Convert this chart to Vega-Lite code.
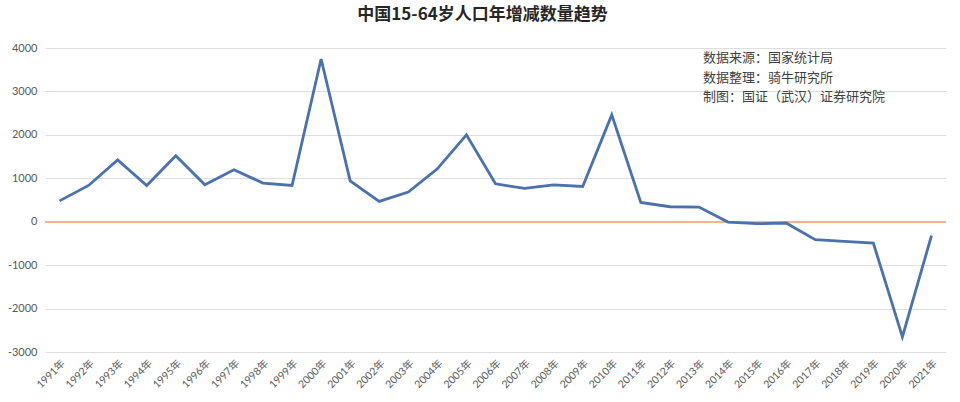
{
  "$schema": "https://vega.github.io/schema/vega-lite/v6.json",
  "width": 901,
  "height": 304,
  "autosize": {"type": "none"},
  "padding": {"left": 45, "top": 48, "right": 14, "bottom": 50},
  "background": "white",
  "config": {
    "view": {"stroke": null},
    "font": "Lato, Noto Sans CJK SC",
    "axis": {"labelFont": "Lato, Noto Sans CJK SC", "labelColor": "#595959"}
  },
  "title": {
    "text": "中国15-64岁人口年增减数量趋势",
    "font": "Noto Sans CJK SC",
    "fontSize": 17,
    "fontWeight": "bold",
    "color": "#262626",
    "anchor": "middle",
    "dx": -13,
    "offset": 18
  },
  "datasets": {
    "series": [
      {"year": "1991年", "value": 480},
      {"year": "1992年", "value": 835},
      {"year": "1993年", "value": 1425},
      {"year": "1994年", "value": 835},
      {"year": "1995年", "value": 1517},
      {"year": "1996年", "value": 850},
      {"year": "1997年", "value": 1195},
      {"year": "1998年", "value": 890},
      {"year": "1999年", "value": 835},
      {"year": "2000年", "value": 3747},
      {"year": "2001年", "value": 942},
      {"year": "2002年", "value": 467},
      {"year": "2003年", "value": 683},
      {"year": "2004年", "value": 1218},
      {"year": "2005年", "value": 2000},
      {"year": "2006年", "value": 873},
      {"year": "2007年", "value": 766},
      {"year": "2008年", "value": 850},
      {"year": "2009年", "value": 812},
      {"year": "2010年", "value": 2460},
      {"year": "2011年", "value": 444},
      {"year": "2012年", "value": 345},
      {"year": "2013年", "value": 338},
      {"year": "2014年", "value": -8},
      {"year": "2015年", "value": -46},
      {"year": "2016年", "value": -30},
      {"year": "2017年", "value": -414},
      {"year": "2018年", "value": -452},
      {"year": "2019年", "value": -490},
      {"year": "2020年", "value": -2651},
      {"year": "2021年", "value": -322}
    ],
    "notes": [
      {"year": "2013年", "value": 3900, "note": "数据来源：国家统计局\n数据整理：骑牛研究所\n制图：国证（武汉）证券研究院"}
    ]
  },
  "layer": [
    {
      "data": {"name": "series"},
      "mark": {"type": "line", "color": "#4a70ae", "strokeWidth": 2.8, "opacity": 0},
      "encoding": {
        "x": {
          "field": "year",
          "type": "ordinal",
          "sort": null,
          "scale": {"type": "point", "padding": 0.5},
          "axis": {
            "title": null,
            "labelAngle": -45,
            "labelFontSize": 10.5,
            "labelPadding": 6,
            "ticks": false,
            "domain": false,
            "grid": false
          }
        },
        "y": {
          "field": "value",
          "type": "quantitative",
          "scale": {"domain": [-3000, 4000], "nice": false, "zero": false},
          "axis": {
            "title": null,
            "values": [-3000, -2000, -1000, 0, 1000, 2000, 3000, 4000],
            "labelExpr": "toString(datum.value)",
            "labelFontSize": 11,
            "labelPadding": 8,
            "ticks": false,
            "domain": false,
            "gridColor": "#dedede",
            "gridWidth": 1
          }
        }
      }
    },
    {
      "data": {"name": "series"},
      "mark": {"type": "rule", "color": "#f2b48e", "strokeWidth": 1.4},
      "encoding": {"y": {"datum": 0}}
    },
    {
      "data": {"name": "series"},
      "mark": {"type": "line", "color": "#4a70ae", "strokeWidth": 2.8, "strokeJoin": "miter"},
      "encoding": {
        "x": {"field": "year", "type": "ordinal", "sort": null},
        "y": {"field": "value", "type": "quantitative"}
      }
    },
    {
      "data": {"name": "notes"},
      "mark": {
        "type": "text",
        "font": "Noto Sans CJK SC",
        "fontSize": 13,
        "color": "#404040",
        "align": "left",
        "baseline": "top",
        "lineBreak": "\n",
        "lineHeight": 19.5,
        "dx": 4
      },
      "encoding": {
        "text": {"field": "note", "type": "nominal"},
        "x": {"field": "year", "type": "ordinal", "sort": null},
        "y": {"field": "value", "type": "quantitative"}
      }
    }
  ]
}
